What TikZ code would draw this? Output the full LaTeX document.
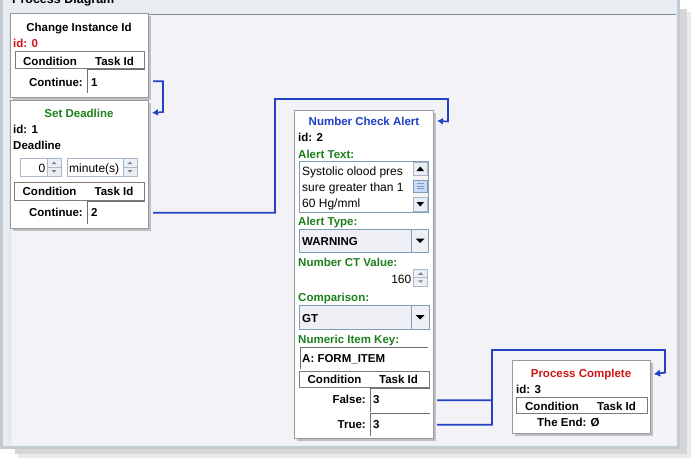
\documentclass[tikz,border=0pt]{standalone}
\usepackage{fontspec}
\setmainfont{Liberation Sans}
\usetikzlibrary{arrows.meta,shadows}
\definecolor{panelc}{HTML}{F3F3F7}
\definecolor{framec}{HTML}{C3CCD0}
\definecolor{bandc}{HTML}{E9EDF1}
\definecolor{toplinec}{HTML}{7E8C99}
\definecolor{leftlinec}{HTML}{D3E5F3}
\definecolor{boxb}{HTML}{9A9A9A}
\definecolor{hdrb}{HTML}{7A7A7A}
\definecolor{fldb}{HTML}{6E6E6E}
\definecolor{wb}{HTML}{7F9DB9}
\definecolor{combof}{HTML}{EEF0F5}
\definecolor{spinf}{HTML}{EAEEF5}
\definecolor{spinb}{HTML}{A9B7C9}
\definecolor{thumbf}{HTML}{C9D9F7}
\definecolor{connc}{HTML}{2443C4}
\definecolor{tgreen}{HTML}{1E7F1E}
\definecolor{tblue}{HTML}{1C3FC6}
\definecolor{tred}{HTML}{D01515}
\newcommand\spinbtn[3]{%
  \draw[spinb, fill=spinf, line width=0.8pt] (#1,#2) rectangle (#1+14,#2+#3);
  \draw[spinb, line width=0.8pt] (#1,#2+#3/2) -- (#1+14,#2+#3/2);
  \fill[gray] (#1+4.5,#2+#3/4+1.5) -- (#1+9.5,#2+#3/4+1.5) -- (#1+7,#2+#3/4-1) -- cycle;
  \fill[gray] (#1+4.5,#2+3*#3/4-1.5) -- (#1+9.5,#2+3*#3/4-1.5) -- (#1+7,#2+3*#3/4+1) -- cycle;
}
\newcommand\dropbtn[3]{%
  \draw[wb, line width=1pt] (#1,#2) -- (#1,#2+#3);
  \fill[black] (#1+4.5,#2+#3/2-2) -- (#1+13.5,#2+#3/2-2) -- (#1+9,#2+#3/2+2.5) -- cycle;
}
\begin{document}
\begin{tikzpicture}[x=1pt,y=-1pt,
  box/.style={draw=boxb, fill=white, line width=1pt, inner sep=0pt, anchor=north west,
    drop shadow={shadow xshift=2pt, shadow yshift=-2pt, opacity=.3, fill=black!70}},
  bt/.style={font=\fontsize{11.5}{13}\selectfont\bfseries, inner sep=0pt},
  ttl/.style={bt, anchor=base},
  lbl/.style={bt, anchor=base west},
  lblr/.style={bt, anchor=base east},
  rt/.style={font=\fontsize{12}{14}\selectfont, inner sep=0pt, anchor=base west},
  hdr/.style={draw=hdrb, fill=white, line width=1pt, inner sep=0pt, anchor=north west},
  fld/.style={fill=white, inner sep=0pt, anchor=north west,
    path picture={\draw[fldb, line width=2pt] (path picture bounding box.south west) -- (path picture bounding box.north west) -- (path picture bounding box.north east);}},
  wid/.style={draw=wb, fill=white, line width=1pt, inner sep=0pt, anchor=north west},
  cmb/.style={wid, fill=combof},
  spn/.style={draw=spinb, fill=white, line width=0.8pt, inner sep=0pt, anchor=north west},
  conn/.style={draw=connc, line width=1.6pt, -{Latex[length=6pt,width=7pt]}},
]
\useasboundingbox (0,0) rectangle (695,466);
\clip (0,0) rectangle (695,466);
\fill[white] (0,0) rectangle (695,466);
% frame and shadow
\fill[black!8] (18,12) rectangle (691,458);
\fill[black!16] (15,9) rectangle (687,454);
\fill[framec] (0,-2) rectangle (680,449);
\fill[bandc] (3,-2) rectangle (677,446);
\fill[panelc] (12,14) rectangle (676,445);
\draw[toplinec, line width=1pt] (12,14.5) -- (676,14.5);
\draw[leftlinec, line width=1.5pt] (9.5,14) -- (9.5,445);
\node[bt, anchor=base west, font=\fontsize{12.5}{14}\selectfont\bfseries] (ptitle) at (12,3.5) {Process Diagram};

% ---------- node 0 : Change Instance Id ----------
\node[box, minimum width=138pt, minimum height=84pt] (n0) at (10,13) {};
\node[ttl] (n0t) at (79,31.5) {Change Instance Id};
\node[lbl, text=tred] (n0id) at (13,47.5) {id: 0};
\node[hdr, minimum width=129pt, minimum height=17pt] (n0h) at (15,51) {};
\node[ttl] (n0hc) at (50,65) {Condition};
\node[ttl] (n0hk) at (114.5,65) {Task Id};
\node[lblr] (n0c) at (83,86) {Continue:};
\node[fld, minimum width=58pt, minimum height=24pt] (n0f) at (87,69) {};
\node[lbl] (n0v) at (91,86) {1};

% ---------- node 1 : Set Deadline ----------
\node[box, minimum width=138pt, minimum height=128pt] (n1) at (10,100) {};
\node[ttl, text=tgreen] (n1t) at (79,117) {Set Deadline};
\node[lbl] (n1id) at (13,133) {id: 1};
\node[lbl] (n1dl) at (13,149) {Deadline};
\node[spn, minimum width=27pt, minimum height=18pt] (n1s1) at (20,158) {};
\node[rt, anchor=base east] (n1s1v) at (45.5,172) {0};
\spinbtn{47}{158}{18}
\node[spn, minimum width=56pt, minimum height=18pt] (n1s2) at (67,158) {};
\node[rt] (n1s2v) at (69,172) {minute(s)};
\spinbtn{123}{158}{18}
\node[hdr, minimum width=130pt, minimum height=18pt] (n1h) at (14,182) {};
\node[ttl] (n1hc) at (49.5,195.5) {Condition};
\node[ttl] (n1hk) at (114,195.5) {Task Id};
\node[lblr] (n1c) at (83,216) {Continue:};
\node[fld, minimum width=58pt, minimum height=23pt] (n1f) at (87,201) {};
\node[lbl] (n1v) at (91,216) {2};

% ---------- node 2 : Number Check Alert ----------
\node[box, minimum width=139pt, minimum height=328pt] (n2) at (294,110) {};
\node[ttl, text=tblue] (n2t) at (364,125) {Number Check Alert};
\node[lbl] (n2id) at (298,141) {id: 2};
\node[lbl, text=tgreen] (n2at) at (298,158) {Alert Text:};
\node[wid, minimum width=129pt, minimum height=51pt] (n2ta) at (299,161) {};
\node[rt] (n2l1) at (302,175.5) {Systolic olood pres};
\node[rt] (n2l2) at (302,191.5) {sure greater than 1};
\node[rt] (n2l3) at (302,207.5) {60 Hg/mml};
\fill[white!92!gray] (413,161.5) rectangle (427.5,211.5);
\draw[spinb, fill=spinf, line width=0.8pt] (413.5,162) rectangle (427,175);
\fill[black] (416.5,171) -- (424,171) -- (420.25,166.5) -- cycle;
\draw[wb, fill=thumbf, line width=0.8pt] (413.5,180) rectangle (427,192);
\draw[wb, line width=0.6pt] (417,183.5) -- (423.5,183.5) (417,186) -- (423.5,186) (417,188.5) -- (423.5,188.5);
\draw[spinb, fill=spinf, line width=0.8pt] (413.5,197) rectangle (427,211);
\fill[black] (416.5,202) -- (424,202) -- (420.25,206.5) -- cycle;
\draw[wb, line width=1pt] (299,161) rectangle (428,212);
\node[lbl, text=tgreen] (n2aty) at (298,225) {Alert Type:};
\node[cmb, minimum width=129pt, minimum height=23pt] (n2cb1) at (299,229) {};
\node[lbl] (n2cb1v) at (302,245) {WARNING};
\dropbtn{411}{229}{23}
\node[lbl, text=tgreen] (n2nv) at (298,266) {Number CT Value:};
\node[rt, anchor=base east] (n2nvv) at (411.5,283) {160};
\spinbtn{413.5}{269}{17}
\node[lbl, text=tgreen] (n2cmp) at (298,301) {Comparison:};
\node[cmb, minimum width=130pt, minimum height=24pt] (n2cb2) at (299,305) {};
\node[lbl] (n2cb2v) at (302,322) {GT};
\dropbtn{411}{305}{24}
\node[lbl, text=tgreen] (n2key) at (298,343) {Numeric Item Key:};
\node[fld, minimum width=128pt, minimum height=22pt] (n2kf) at (300,347) {};
\node[lbl] (n2kv) at (302,362) {A: FORM\_ITEM};
\node[hdr, minimum width=130pt, minimum height=16pt] (n2h) at (299,371) {};
\node[ttl] (n2hc) at (334.5,383.5) {Condition};
\node[ttl] (n2hk) at (398.5,383.5) {Task Id};
\node[lblr] (n2fc) at (366,403) {False:};
\node[fld, minimum width=60pt, minimum height=24pt] (n2ff) at (370,388) {};
\node[lbl] (n2fv) at (373,403) {3};
\node[lblr] (n2tc) at (366,428) {True:};
\node[fld, minimum width=60pt, minimum height=23pt] (n2tf) at (370,413) {};
\node[lbl] (n2tv) at (373,428) {3};

% ---------- node 3 : Process Complete ----------
\node[box, minimum width=138pt, minimum height=73pt] (n3) at (512,360) {};
\node[ttl, text=tred] (n3t) at (581,377) {Process Complete};
\node[lbl] (n3id) at (516,393) {id: 3};
\node[hdr, minimum width=131pt, minimum height=16pt] (n3h) at (516,397) {};
\node[ttl] (n3hc) at (552,410) {Condition};
\node[ttl] (n3hk) at (616.5,410) {Task Id};
\node[lbl] (n3e) at (537,426) {The End: Ø};

% ---------- connectors ----------
\draw[conn] ([xshift=4pt]n0.east |- n0f.east) -| (163,112) -- ([xshift=3pt]n1.east |- n1t.center);
\draw[conn] ([xshift=4pt]n1.east |- n1f.east) -| (275,99) -| (448,121.5) -- ([xshift=3pt]n2.east |- n2t.center);
\draw[conn] ([xshift=3pt]n2.east |- n2ff.east) -| (492,350) -| (665,372.5) -- ([xshift=3pt]n3.east |- n3t.center);
\draw[conn] ([xshift=3pt]n2.east |- n2tf.east) -| (492,350) -| (665,372.5) -- ([xshift=3pt]n3.east |- n3t.center);
\end{tikzpicture}
\end{document}
